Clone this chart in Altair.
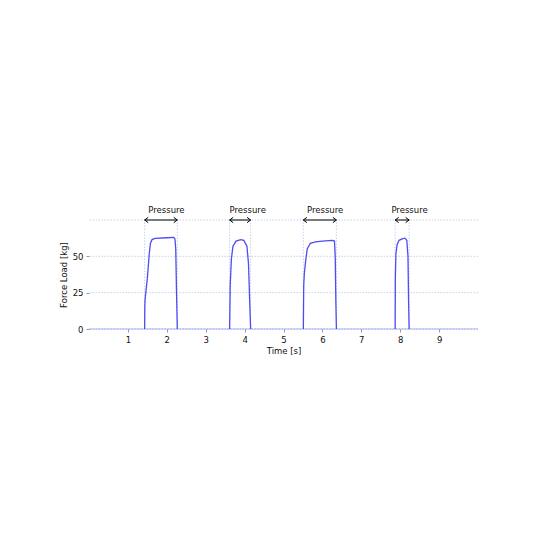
import altair as alt
import pandas as pd

# Force curve (time in s, force in kg), one list per pressure pulse
pulse_t = [
    [1.43, 1.435, 1.44, 1.50, 1.55, 1.58, 1.62, 1.70, 2.00, 2.18, 2.21, 2.23, 2.25, 2.27],
    [3.615, 3.63, 3.66, 3.70, 3.78, 3.90, 3.98, 4.06, 4.10, 4.13, 4.155],
    [5.51, 5.52, 5.535, 5.57, 5.61, 5.69, 5.82, 6.00, 6.25, 6.31, 6.33, 6.345, 6.36],
    [7.87, 7.875, 7.89, 7.92, 7.97, 8.05, 8.12, 8.17, 8.20, 8.215, 8.23],
]
pulse_f = [
    [0, 15, 20, 35, 52, 59, 61.5, 62.3, 62.8, 63, 62, 55, 25, 0],
    [0, 30, 48, 57, 60.5, 61.5, 61, 57, 45, 20, 0],
    [0, 30, 38, 47, 55, 59, 60, 60.5, 61, 60.5, 50, 20, 0],
    [0, 35, 52, 58, 61, 62, 62.5, 61, 50, 20, 0],
]
# Resting (zero-load) time span
rest_t = [0.0, 10.0]
rest_f = [0, 0]

# Pressure phases
phase_start = [1.43, 3.615, 5.51, 7.87]
phase_end = [2.27, 4.155, 6.36, 8.23]
label_t = [1.99, 4.08, 6.07, 8.24]
label_text = ["Pressure", "Pressure", "Pressure", "Pressure"]

grid_y = [0, 25, 50, 75]
x_ticks = [1, 2, 3, 4, 5, 6, 7, 8, 9]
y_ticks = [0, 25, 50]
arrow_y = 75

rows = []
for i, (ts, fs) in enumerate(zip(pulse_t, pulse_f)):
    for t, f in zip(ts, fs):
        rows.append({"t": t, "f": f, "pulse": i})
curve = pd.DataFrame(rows)
rest = pd.DataFrame({"t": rest_t, "f": rest_f})
phases = pd.DataFrame({"start": phase_start, "end": phase_end, "y": [arrow_y] * 4})
bounds = pd.DataFrame({"t": phase_start + phase_end})
labels = pd.DataFrame({"t": label_t, "label": label_text, "y": [arrow_y] * 4})
grid = pd.DataFrame({"y": grid_y})

FONT = "DejaVu Sans"
GRID_COL = "#b0c8e8"
LINE_COL = "#3a3af0"

xscale = alt.Scale(domain=[0, 10], nice=False, zero=False)
yscale = alt.Scale(domain=[0, 75], nice=False)

xax = alt.Axis(values=x_ticks, grid=False, domain=False, tickColor="#999999", tickSize=3,
               labelFont=FONT, labelFontSize=8.5, labelColor="#111111", labelPadding=3,
               title="Time [s]", titleFont=FONT, titleFontSize=8.5, titleFontWeight="normal",
               titleColor="#111111", titlePadding=3, format="d")
yax = alt.Axis(values=y_ticks, grid=False, domain=False, tickColor="#999999", tickSize=3,
               labelFont=FONT, labelFontSize=8.5, labelColor="#111111", labelPadding=3,
               title="Force Load [kg]", titleFont=FONT, titleFontSize=8.5, titleFontWeight="normal",
               titleColor="#111111", titlePadding=4, format="d")

gridlines = alt.Chart(grid).mark_rule(color=GRID_COL, strokeDash=[1.5, 1.5], strokeWidth=0.8).encode(
    y=alt.Y("y:Q", scale=yscale, axis=yax)
)

vlines = alt.Chart(bounds).mark_rule(color=GRID_COL, strokeDash=[1.5, 1.5], strokeWidth=0.8).encode(
    x=alt.X("t:Q", scale=xscale, axis=xax),
    y=alt.datum(0),
    y2=alt.datum(75),
)

rest_line = alt.Chart(rest).mark_line(color=LINE_COL, strokeWidth=1.3, opacity=0.25).encode(
    x=alt.X("t:Q", scale=xscale, axis=xax),
    y=alt.Y("f:Q", scale=yscale, axis=yax),
)

line = alt.Chart(curve).mark_line(color=LINE_COL, strokeWidth=1.3, opacity=0.9).encode(
    x=alt.X("t:Q", scale=xscale, axis=xax),
    y=alt.Y("f:Q", scale=yscale, axis=yax),
    detail="pulse:N",
    order="t:Q",
)

arrow_body = alt.Chart(phases).mark_rule(color="black", strokeWidth=1).encode(
    x=alt.X("start:Q", scale=xscale, axis=xax),
    x2="end:Q",
    y=alt.Y("y:Q", scale=yscale, axis=yax),
)

left_head = alt.Chart(phases).mark_point(
    shape="M0,0 L1,-0.75 M0,0 L1,0.75", filled=False, color="black", size=50, strokeWidth=1, opacity=1
).encode(x=alt.X("start:Q", scale=xscale, axis=xax), y=alt.Y("y:Q", scale=yscale, axis=yax))

right_head = alt.Chart(phases).mark_point(
    shape="M0,0 L-1,-0.75 M0,0 L-1,0.75", filled=False, color="black", size=50, strokeWidth=1, opacity=1
).encode(x=alt.X("end:Q", scale=xscale, axis=xax), y=alt.Y("y:Q", scale=yscale, axis=yax))

texts = alt.Chart(labels).mark_text(font=FONT, fontSize=8.5, color="#111111", dy=-10, baseline="middle").encode(
    x=alt.X("t:Q", scale=xscale, axis=xax),
    y=alt.Y("y:Q", scale=yscale, axis=yax),
    text="label:N",
)

chart = alt.layer(gridlines, vlines, rest_line, line, arrow_body, left_head, right_head, texts).properties(
    width=389, height=109,
    autosize=alt.AutoSizeParams(type="none"),
    padding={"left": 81, "top": 212, "right": 50, "bottom": 200},
    background="white",
).configure_view(strokeWidth=0, stroke=None)

chart.save("out.html", embed_options={"renderer": "svg", "actions": False})
